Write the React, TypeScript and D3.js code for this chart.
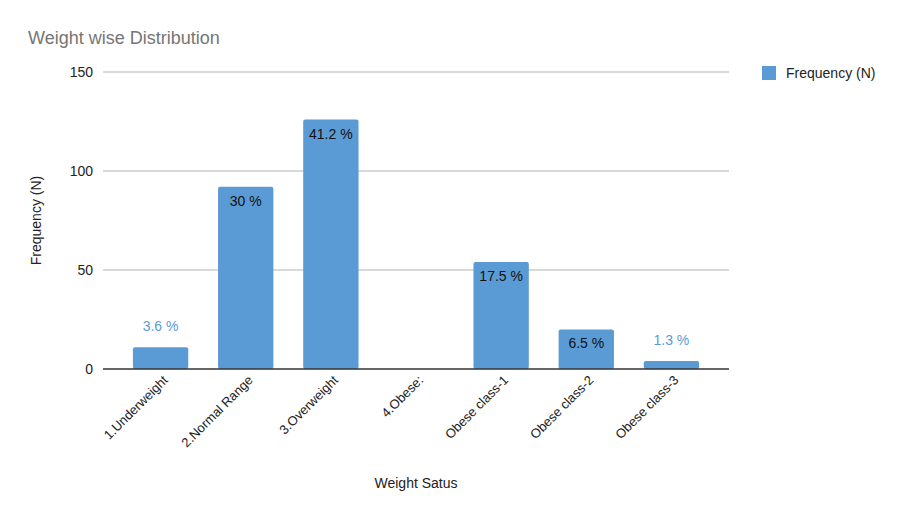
import * as d3 from "d3"

const categories = ["1.Underweight", "2.Normal Range", "3.Overweight", "4.Obese:", "Obese class-1", "Obese class-2", "Obese class-3"]
const frequency = [11, 92, 126, 0, 54, 20, 4]
const percentLabels = ["3.6 %", "30 %", "41.2 %", "", "17.5 %", "6.5 %", "1.3 %"]
const yTicks = [0, 50, 100, 150]

const W = 911
const H = 519
const BAR = "#5b9bd5"

export default function App() {
  const x = d3.scaleBand<string>().domain(categories).range([118, 714]).paddingInner(0.35).paddingOuter(0.175)
  const y = d3.scaleLinear().domain([0, 150]).range([369, 72])
  const font = "Arial, 'Liberation Sans', sans-serif"

  return (
    <svg width={W} height={H} style={{ position: "absolute", left: 0, top: 0, background: "#fff" }} fontFamily={font}>
      <text x={28} y={44} fontSize={18} fill="#757575">Weight wise Distribution</text>
      {yTicks.map((t) => (
        <g key={t}>
          {t > 0 && <line x1={103} x2={729} y1={y(t)} y2={y(t)} stroke="#cccccc" strokeWidth={1.5} />}
          <text x={93} y={y(t) + 5} textAnchor="end" fontSize={14} fill="#222">{t}</text>
        </g>
      ))}
      {categories.map((c, i) => {
        const bx = x(c)!
        const bw = x.bandwidth()
        const top = y(frequency[i])
        const outside = frequency[i] > 0 && y(0) - top < 25
        return (
          <g key={c}>
            {frequency[i] > 0 && <rect x={bx} y={top} width={bw} height={y(0) - top} fill={BAR} rx={2} />}
            {percentLabels[i] && (
              <text x={bx + bw / 2} y={outside ? top - 16 : top + 19} textAnchor="middle" fontSize={14}
                fill={outside ? BAR : "#111"}>{percentLabels[i]}</text>
            )}
            <text transform={`translate(${bx + bw / 2 + 8},${381}) rotate(-45)`} textAnchor="end" fontSize={13} fill="#222">{c}</text>
          </g>
        )
      })}
      <line x1={103} x2={729} y1={y(0)} y2={y(0)} stroke="#333" strokeWidth={1.5} />
      <text transform={`translate(41,${y(75)}) rotate(-90)`} textAnchor="middle" fontSize={14} fill="#222">Frequency (N)</text>
      <text x={416} y={488} textAnchor="middle" fontSize={14} fill="#222">Weight Satus</text>
      <rect x={762} y={66} width={14} height={14} fill={BAR} />
      <text x={786} y={78} fontSize={14} fill="#222">Frequency (N)</text>
    </svg>
  )
}
